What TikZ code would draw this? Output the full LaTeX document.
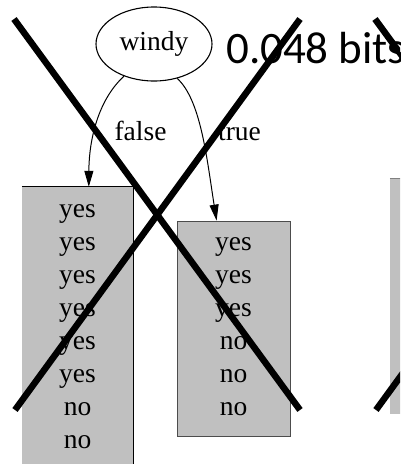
\documentclass[tikz,border=0pt]{standalone}
\usepackage{fontspec}
\setmainfont{Liberation Serif}
\newfontfamily\calib{Carlito}
\usetikzlibrary{shapes.geometric,arrows.meta}
\definecolor{boxgray}{HTML}{C0C0C0}
\begin{document}
\begin{tikzpicture}[x=1pt,y=-1pt,
  lbl/.style={font=\fontsize{27.5}{33}\selectfont, inner sep=0pt, anchor=base},
  leaf/.style={fill=boxgray, inner sep=0pt, draw=none},
  edgearrow/.style={line width=1pt, -{Triangle[length=16pt,width=9pt]}},
  cross/.style={line width=6.5pt, black}]
\useasboundingbox (0,0) rectangle (400,464);
\begin{scope}
\clip (0,0) rectangle (400,464);
% leaf boxes
\node[leaf, minimum width=111pt, minimum height=283pt] (L) at (77.5,328.5) {};
\node[leaf, minimum width=113pt, minimum height=215pt, draw=black!70, line width=0.8pt] (M) at (233.5,328.5) {};
\node[leaf, minimum width=22pt, minimum height=235pt] (R) at (401,296.5) {};
\draw[line width=0.8pt] (L.north west) -- (L.north east) -- (L.south east);
\draw[line width=0.8pt, gray] (R.north west) -- (R.north east);
% left box entries
\node[lbl] (l1) at (77.5,217) {yes};
\node[lbl] (l2) at (77.5,250) {yes};
\node[lbl] (l3) at (77.5,283) {yes};
\node[lbl] (l4) at (77.5,316) {yes};
\node[lbl] (l5) at (77.5,349) {yes};
\node[lbl] (l6) at (77.5,382) {yes};
\node[lbl] (l7) at (77.5,415) {no};
\node[lbl] (l8) at (77.5,448) {no};
% middle box entries
\node[lbl] (m1) at (233.5,250) {yes};
\node[lbl] (m2) at (233.5,283) {yes};
\node[lbl] (m3) at (233.5,316) {yes};
\node[lbl] (m4) at (233.5,349) {no};
\node[lbl] (m5) at (233.5,382) {no};
\node[lbl] (m6) at (233.5,415) {no};
% root
\node[draw, ellipse, line width=1.1pt, minimum width=116pt, minimum height=74pt, inner sep=0pt,
      font=\fontsize{27.5}{33}\selectfont] (windy) at (154,44) {windy};
\node[lbl] (f) at (140.5,140) {false};
\node[lbl] (t) at (239.5,140) {true};
\node[font=\calib\fontsize{45}{50}\selectfont, anchor=base west, inner sep=0pt] (bits) at (226,63) {0.048 bits};
% edges
\draw[edgearrow] (windy.227) .. controls (98,100) and (89,140) .. ([xshift=67pt]L.north west);
\draw[edgearrow] (windy.304) .. controls (201,100) and (207,160) .. ([xshift=40pt]M.north west);
% crosses
\draw[cross] (14,19) -- (300,410);
\draw[cross] (15,410) -- (300,19);
\draw[cross] (375,19) -- (661,410);
\draw[cross] (376,410) -- (661,19);
\end{scope}
\end{tikzpicture}
\end{document}
